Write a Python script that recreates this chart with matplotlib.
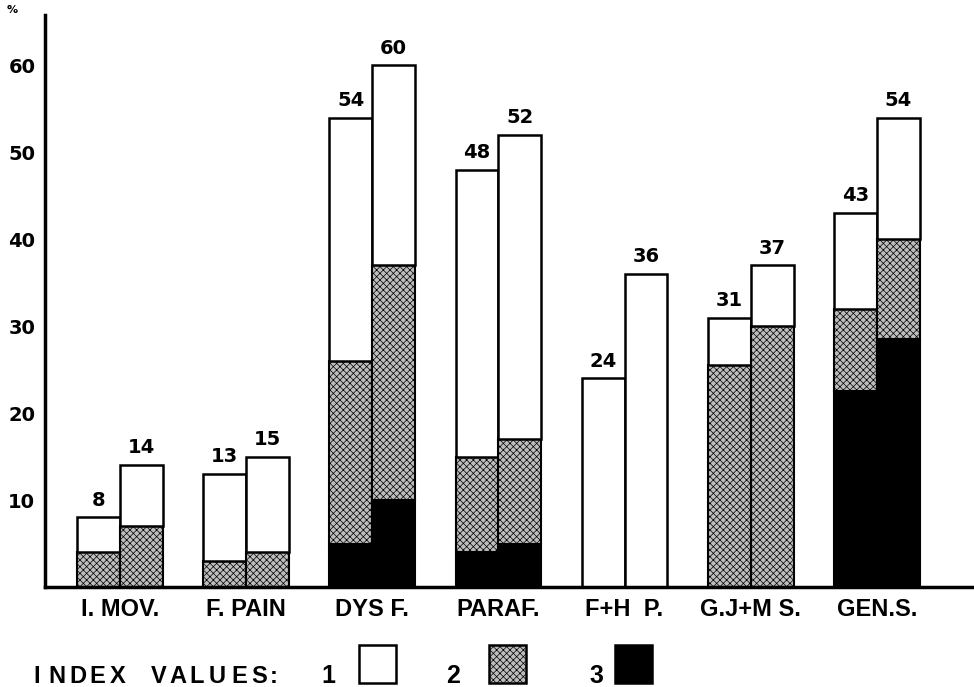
import numpy as np
import matplotlib.pyplot as plt
from matplotlib.patches import Rectangle

plt.rcParams['font.family'] = ['DejaVu Sans']
plt.rcParams['hatch.linewidth'] = 0.5
narrow = ['Liberation Sans Narrow', 'Liberation Sans', 'DejaVu Sans']

categories = ['I. MOV.', 'F. PAIN', 'DYS F.', 'PARAF.', 'F+H  P.', 'G.J+M S.', 'GEN.S.']

# two bars per category, values of each index (3 = bottom, 2 = middle, 1 = top)
idx3_a = [0, 0, 5, 4, 0, 0, 22.5]
idx2_a = [4, 3, 21, 11, 0, 25.5, 9.5]
idx1_a = [4, 10, 28, 33, 24, 5.5, 11]
idx3_b = [0, 0, 10, 5, 0, 0, 28.5]
idx2_b = [7, 4, 27, 12, 0, 30, 11.5]
idx1_b = [7, 11, 23, 35, 36, 7, 14]
labels_a = [8, 13, 54, 48, 24, 31, 43]
labels_b = [14, 15, 60, 52, 36, 37, 54]

fig = plt.figure(figsize=(9.74, 6.87), dpi=100)
ax = fig.add_axes([45/974, 100/687, 1 - 45/974, 572/687])

x = np.arange(len(categories))
w = 0.34
gray = '#bdbdbd'

for xs, i3, i2, i1, lab in [(x - w/2, idx3_a, idx2_a, idx1_a, labels_a),
                            (x + w/2, idx3_b, idx2_b, idx1_b, labels_b)]:
    i3 = np.array(i3); i2 = np.array(i2); i1 = np.array(i1)
    ax.bar(xs, i3, w, color='black', edgecolor='black', linewidth=1.5)
    ax.bar(xs, i2, w, bottom=i3, facecolor=gray, hatch='xxxxx',
           edgecolor='black', linewidth=1.5)
    ax.bar(xs, i1, w, bottom=i3 + i2, facecolor='white', edgecolor='black', linewidth=1.8)
    for xi, tot, l in zip(xs, i3 + i2 + i1, lab):
        ax.text(xi, tot + 0.9, str(l), ha='center', va='bottom',
                fontsize=14, fontweight='bold')

ax.set_xlim(-0.594, 6.77)
ax.set_ylim(0, 65.8)
ax.set_yticks([10, 20, 30, 40, 50, 60])
ax.set_yticklabels(['10', '20', '30', '40', '50', '60'], fontsize=14, fontweight='bold')
ax.tick_params(axis='y', length=0, pad=7)
ax.set_xticks(x)
ax.set_xticklabels(categories, fontsize=17, fontweight='bold', family=narrow)
ax.tick_params(axis='x', length=0, pad=8)
for s in ['top', 'right']:
    ax.spines[s].set_visible(False)
for s in ['left', 'bottom']:
    ax.spines[s].set_linewidth(2.5)

fig.text(12/974, 1 - 10/687, '%', fontsize=8, fontweight='bold', ha='center', va='center')

# legend row, letter-spaced title
ly = 1 - 683/687
title = 'INDEX VALUES:'
char_px = [37, 57, 78, 97, 118, None, 159, 178, 197, 217, 239, 259, 274]
for ch, px in zip(title, char_px):
    if px is not None:
        fig.text(px/974, ly, ch, fontsize=17, fontweight='bold', va='baseline',
                 ha='center', family=narrow)
legend_items = [('1', 328, 359, dict(facecolor='white')),
                ('2', 453, 489, dict(facecolor=gray, hatch='xxxxx')),
                ('3', 596, 615, dict(facecolor='black'))]
for txt, tx, bx, kw in legend_items:
    fig.text(tx/974, ly, txt, fontsize=18, fontweight='bold', va='baseline',
             ha='center', family=narrow)
    fig.patches.append(Rectangle((bx/974, 1 - 683/687), 37/974, 38/687,
                                 transform=fig.transFigure, edgecolor='black',
                                 linewidth=1.8, figure=fig, **kw))

fig.savefig('out.png', dpi=100)
